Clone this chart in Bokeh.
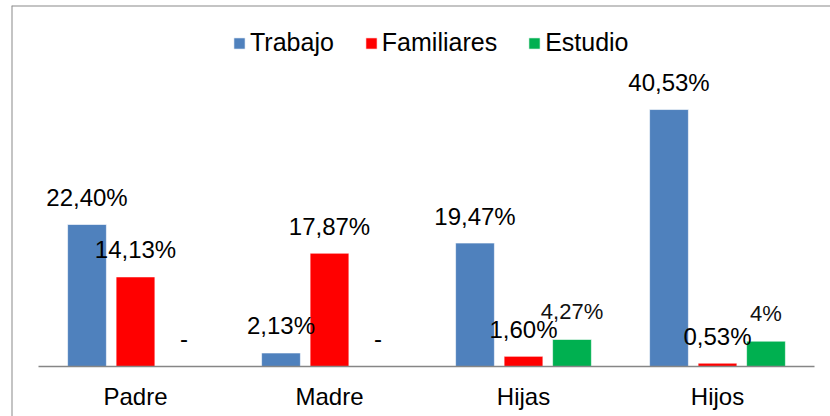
from bokeh.plotting import figure
from bokeh.models import ColumnDataSource, Range1d, Span, Legend, LegendItem
from bokeh.transform import dodge
from bokeh.core.properties import value
from bokeh.embed import file_html
from bokeh.resources import INLINE
import numpy as np

categories = ["Padre", "Madre", "Hijas", "Hijos"]
series = ["Trabajo", "Familiares", "Estudio"]
trabajo = [22.40, 2.13, 19.47, 40.53]
familiares = [14.13, 17.87, 1.60, 0.53]
estudio = [0.0, 0.0, 4.27, 4.0]
trabajo_labels = ["22,40%", "2,13%", "19,47%", "40,53%"]
familiares_labels = ["14,13%", "17,87%", "1,60%", "0,53%"]
estudio_labels = ["-", "-", "4,27%", "4%"]

colors = ["#4F81BD", "#FF0000", "#00B050"]
MAIN = "Liberation Sans"
SANS = "Liberation Sans"

xpos = np.arange(len(categories)) + 0.5
src = ColumnDataSource(dict(
    x=xpos, cat=categories,
    trabajo=trabajo, familiares=familiares, estudio=estudio,
    tl=trabajo_labels, fl=familiares_labels, el=estudio_labels,
))

p = figure(width=830, height=416,
           x_range=Range1d(-0.13918, 4.08247), y_range=Range1d(-7.886, 56.94),
           x_axis_location=None, y_axis_location=None,
           output_backend="svg", toolbar_location=None,
           min_border_left=11, min_border_top=5, min_border_right=0, min_border_bottom=0)
p.grid.grid_line_color = None
p.outline_line_color = None
p.background_fill_color = "white"
p.border_fill_color = "white"

# chart border (left and top edges)
p.add_layout(Span(location=p.x_range.start, dimension="height", line_color="#8a8a8a", line_width=2))
p.add_layout(Span(location=p.y_range.end, dimension="width", line_color="#8a8a8a", line_width=2))

offsets = [-0.25, 0.0, 0.25]
fields = ["trabajo", "familiares", "estudio"]
renderers = []
for f, off, c in zip(fields, offsets, colors):
    r = p.vbar(x=dodge("x", off), top=f, width=0.2, source=src,
               fill_color=c, line_color="white", line_alpha=0.6, line_width=1)
    renderers.append(r)

# baseline axis line
p.segment(x0=[0], x1=[len(categories)], y0=[0], y1=[0], line_color="#868686", line_width=1.5)

# data labels
for f, off, lab in [("trabajo", -0.25, "tl"), ("familiares", 0.0, "fl")]:
    p.text(x=dodge("x", off), y=f, text=lab, source=src,
           text_font=value(MAIN), text_font_size="24px", text_color="black",
           text_align="center", text_baseline="alphabetic", y_offset=-27)

zero_idx = [i for i, v in enumerate(estudio) if v == 0]
nz_idx = [i for i, v in enumerate(estudio) if v != 0]
src_e0 = ColumnDataSource(dict(x=[xpos[i] for i in zero_idx], y=[estudio[i] for i in zero_idx],
                               t=[estudio_labels[i] for i in zero_idx]))
src_e1 = ColumnDataSource(dict(x=[xpos[i] for i in nz_idx], y=[estudio[i] for i in nz_idx],
                               t=[estudio_labels[i] for i in nz_idx]))
p.text(x=dodge("x", 0.25), y="y", text="t", source=src_e0,
       text_font=value(MAIN), text_font_size="24px", text_color="black",
       text_align="center", text_baseline="alphabetic", y_offset=-28)
p.text(x=dodge("x", 0.25), y="y", text="t", source=src_e1,
       text_font=value(SANS), text_font_size="22px", text_color="#111111",
       text_align="center", text_baseline="alphabetic", y_offset=-28)

# category labels
p.text(x="x", y=0, text="cat", source=src,
       text_font=value(MAIN), text_font_size="24px", text_color="black",
       text_align="center", text_baseline="alphabetic", y_offset=30)

legend = Legend(items=[LegendItem(label=s, renderers=[r]) for s, r in zip(series, renderers)],
                orientation="horizontal", location=(221, 359),
                label_text_font=MAIN, label_text_font_size="25px", label_text_color="black",
                glyph_width=14, glyph_height=14, padding=0, spacing=30, label_standoff=4,
                border_line_color=None, background_fill_alpha=0)
p.add_layout(legend)

open("out.html", "w").write(file_html(p, INLINE))
